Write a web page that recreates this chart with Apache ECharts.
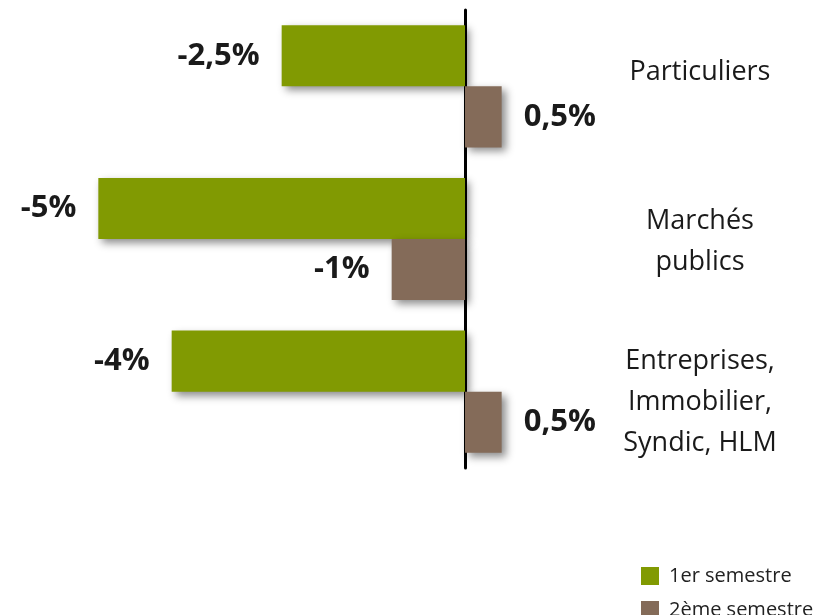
<!DOCTYPE html>
<html>
<head>
<meta charset="utf-8">
<script src="https://cdn.jsdelivr.net/npm/echarts@6/dist/echarts.min.js"></script>
<style>
  html, body { margin: 0; padding: 0; background: #fff; }
  #chart { width: 830px; height: 615px; }
</style>
</head>
<body>
<div id="chart"></div>
<script>
// data
const categories = ['Particuliers', 'Marchés\npublics', 'Entreprises,\nImmobilier,\nSyndic, HLM']
const seriesNames = ['1er semestre', '2ème semestre']
const semestre1 = [-2.5, -5, -4]
const semestre2 = [0.5, -1, 0.5]
const colors = ['#819a02', '#846b59']

const chart = echarts.init(document.getElementById('chart'))

// label outside the bar end, on the side of the sign
function toItems (values) {
  return values.map(v => ({
    value: v,
    label: { position: v < 0 ? 'left' : 'right' }
  }))
}

function fmt (p) {
  return String(p.value).replace('.', ',') + '%'
}

// the category texts are not quite centred on their band in the original,
// an empty spacer line above or below nudges them
function catLabel (value, index) {
  const body = value.split('\n').map(l => '{t|' + l + '}').join('\n')
  if (index === 0) return body + '\n{g0| }'
  if (index === 1) return '{g1| }\n' + body
  return '{g2| }\n' + body
}

const barStyle = (color) => ({
  color: color,
  shadowColor: 'rgba(0,0,0,0.45)',
  shadowBlur: 8,
  shadowOffsetX: 4,
  shadowOffsetY: 4
})

const valueLabel = {
  show: true,
  distance: 22,
  formatter: fmt,
  fontFamily: 'Open Sans',
  fontWeight: 'bold',
  fontSize: 31,
  color: '#1a1a1a'
}

const legendBase = {
  orient: 'vertical',
  left: 636,
  itemWidth: 18,
  itemHeight: 18,
  icon: 'rect',
  textStyle: {
    fontFamily: 'Open Sans',
    fontSize: 20,
    color: '#222',
    verticalAlign: 'top',
    lineHeight: 32,
    padding: [0, 0, 0, 5]
  }
}

chart.setOption({
  animation: false,
  grid: {
    left: 25,
    top: 10,
    height: 458,
    width: 616
  },
  legend: [
    Object.assign({}, legendBase, { top: 555, data: [seriesNames[0]] }),
    Object.assign({}, legendBase, { top: 589, data: [seriesNames[1]] })
  ],
  xAxis: {
    type: 'value',
    min: -6,
    max: 2.4,
    show: false
  },
  yAxis: [{
    type: 'category',
    data: categories,
    inverse: true,
    axisLine: { lineStyle: { color: '#000', width: 3 } },
    axisTick: { show: false },
    axisLabel: { show: false }
  }, {
    type: 'category',
    data: categories,
    inverse: true,
    position: 'right',
    axisLine: { show: false },
    axisTick: { show: false },
    axisLabel: {
      margin: 59,
      align: 'center',
      fontFamily: 'Open Sans',
      fontSize: 27,
      lineHeight: 40,
      color: '#1a1a1a',
      formatter: catLabel,
      rich: {
        t: { lineHeight: 41 },
        g0: { lineHeight: 28, fontSize: 10 },
        g1: { lineHeight: 6, fontSize: 4 },
        g2: { lineHeight: 22, fontSize: 10 }
      }
    }
  }],
  series: [{
    name: seriesNames[0],
    type: 'bar',
    barCategoryGap: '20%',
    barGap: '0%',
    itemStyle: barStyle(colors[0]),
    label: valueLabel,
    data: toItems(semestre1)
  }, {
    name: seriesNames[1],
    type: 'bar',
    barCategoryGap: '20%',
    barGap: '0%',
    itemStyle: barStyle(colors[1]),
    label: valueLabel,
    data: toItems(semestre2)
  }]
})
</script>
</body>
</html>
